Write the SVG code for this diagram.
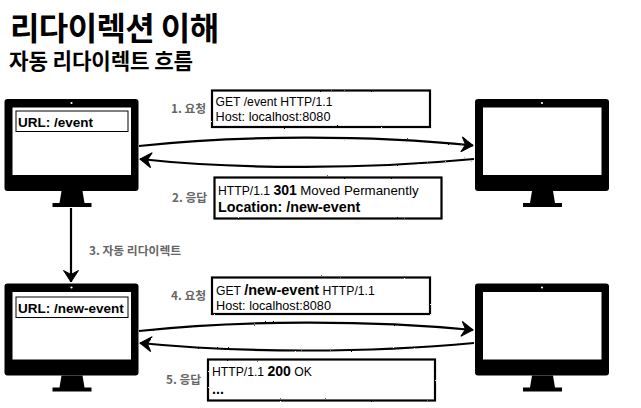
<svg xmlns="http://www.w3.org/2000/svg" width="641" height="408" viewBox="0 0 641 408">
<style>
text{font-family:"Liberation Sans","Noto Sans CJK KR",sans-serif;fill:#000}
.ko{font-family:"Noto Sans CJK KR","Liberation Sans",sans-serif}
.t{font-weight:700;font-size:32px;letter-spacing:-.6px}
.s{font-weight:700;font-size:21.200px;letter-spacing:-.1px}
.l{font-weight:700;font-size:11.8px;fill:#666}
.m{font-size:12.2px}
.h{font-size:12.700px}
.p{font-size:13.300px}
.n{font-weight:700;font-size:14px}
.b{font-size:14.300px;font-weight:700}
.g{font-size:14.500px;font-weight:700}
.u{font-size:13.500px;font-weight:700}
.box{fill:#fff;stroke:#000;stroke-width:2.2;filter:url(#rough)}
.url{fill:#fff;stroke:#000;stroke-width:1}
.c{fill:none;stroke:#000;stroke-width:2.2;filter:url(#rough)}
</style>
<defs>
<filter id="rough" x="0" y="0" width="641" height="408" filterUnits="userSpaceOnUse">
<feTurbulence type="fractalNoise" baseFrequency="0.7" numOctaves="2" seed="3"/>
<feDisplacementMap in="SourceGraphic" scale="1.6"/>
</filter>
<marker id="ah" viewBox="0 0 15 16" refX="13" refY="8" markerWidth="15" markerHeight="16" markerUnits="userSpaceOnUse" orient="auto">
<path d="M1.500 .5L13 8L1.500 15.500L5.500 8Z" fill="#000" stroke="#000" stroke-width="1"/>
</marker>
<g id="mon">
<rect x="0" y="0" width="134" height="92" rx="3" fill="#000"/>
<rect x="8" y="8.500" width="118.500" height="67.500" fill="#fff"/>
<circle cx="67" cy="4" r="1.100" fill="#fff"/>
<path d="M57 92H78L80 104H87V108H48V104H55Z" fill="#000"/>
</g>
</defs>
<rect width="641" height="408" fill="#fff"/>
<text class="t ko" x="10" y="40">리다이렉션 이해</text>
<text class="s ko" x="9" y="69">자동 리다이렉트 흐름</text>

<g id="connectors">
<path class="c" d="M139 146C240 135 370 135 473 145.500" marker-end="url(#ah)"/>
<path class="c" d="M474 159C370 169 240 170 140 159" marker-end="url(#ah)"/>
<path class="c" d="M71 208V282" marker-end="url(#ah)"/>
<path class="c" d="M139 331C240 320 370 320 473 330" marker-end="url(#ah)"/>
<path class="c" d="M474 343C370 353 240 353 140 343" marker-end="url(#ah)"/>
</g>

<g id="client-1"><use href="#mon" x="4.500" y="99"/>
<rect class="url" x="16" y="111" width="112" height="20.500"/>
<text class="u" x="18" y="127">URL: /event</text></g>
<g id="server-1"><use href="#mon" x="475" y="99"/></g>
<g id="client-2"><use href="#mon" x="4.500" y="283.500"/>
<rect class="url" x="16" y="297" width="112" height="20.500"/>
<text class="u" x="18" y="312.500">URL: /new-event</text></g>
<g id="server-2"><use href="#mon" x="475" y="283.500"/></g>

<g id="label-1"><text class="l ko" x="171" y="113">1. 요청</text></g>
<g id="request-1"><rect class="box" x="212" y="90.500" width="218" height="36.500"/>
<text class="m" x="215.500" y="106">GET /event HTTP/1.1</text>
<text class="h" x="215.500" y="121">Host: localhost:8080</text></g>
<g id="label-2"><text class="l ko" x="172" y="202">2. 응답</text></g>
<g id="response-1"><rect class="box" x="214.500" y="177.500" width="227" height="41"/>
<text class="m" x="218" y="195">HTTP/1.1 <tspan class="n">301</tspan> <tspan class="p">Moved Permanently</tspan></text>
<text class="b" x="218" y="212">Location: /new-event</text></g>
<g id="label-3"><text class="l ko" x="89" y="255">3. 자동 리다이렉트</text></g>
<g id="label-4"><text class="l ko" x="171" y="300">4. 요청</text></g>
<g id="request-2"><rect class="box" x="212" y="277.500" width="218" height="36.500"/>
<text class="m" x="216" y="295">GET <tspan class="g">/new-event</tspan> HTTP/1.1</text>
<text class="h" x="216" y="310">Host: localhost:8080</text></g>
<g id="label-5"><text class="l ko" x="166" y="384">5. 응답</text></g>
<g id="response-2"><rect class="box" x="208" y="359.500" width="227" height="41"/>
<text class="m" x="212" y="376">HTTP/1.1 <tspan class="n">200</tspan> OK</text>
<text class="b" x="212" y="394">...</text></g>
</svg>
